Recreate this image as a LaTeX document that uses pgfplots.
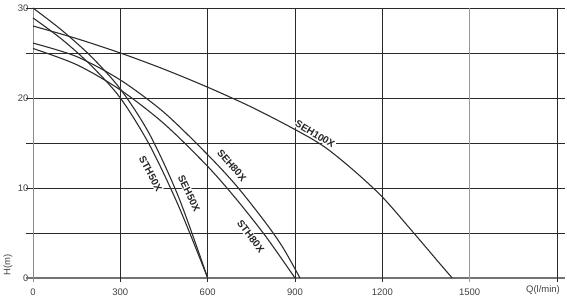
\documentclass[border=0pt]{standalone}
\usepackage{fontspec}
\setmainfont{Liberation Sans}
\usepackage{pgfplots}
\pgfplotsset{compat=1.18}
\definecolor{gridc}{HTML}{2A2A2A}
\definecolor{curvec}{HTML}{2E2E2E}
\begin{document}
\begin{tikzpicture}
\path[use as bounding box] (-33pt,-26pt) rectangle (534pt,278pt);
\begin{axis}[
  scale only axis, width=524pt, height=270pt,
  xmin=0, xmax=1800, ymin=0, ymax=30,
  axis line style={draw=none},
  tick style={draw=none},
  xtick={0,300,600,900,1200,1500},
  ytick={0,10,20,30},
  /pgf/number format/assume math mode=true,
  /pgf/number format/1000 sep={},
  ticklabel style={font=\fontsize{9.5}{11}\selectfont, text=black!75},
  xticklabel style={yshift=-7pt},
  yticklabel style={xshift=-1pt},
  clip=false,
  cycle list={{curvec, line width=1.1pt, smooth, mark=none}},
]
% grid
\pgfplotsinvokeforeach{5,10,15,20,25,30}{\draw[gridc, line width=0.8pt] (axis cs:-24,#1) -- (axis cs:1827,#1);}
\draw[black!55, line width=1.3pt] (axis cs:-24,0) -- (axis cs:1827,0);
\pgfplotsinvokeforeach{300,600,900,1200,1800}{\draw[gridc, line width=0.8pt] (axis cs:#1,-0.4) -- (axis cs:#1,30);}
\draw[black!45, line width=0.8pt] (axis cs:0,-0.4) -- (axis cs:0,30);
\draw[black!40, line width=0.8pt] (axis cs:1500,-0.4) -- (axis cs:1500,30);

% SEH100X
\addplot[curvec, line width=1.1pt, smooth] coordinates {(0,28) (150,26.6) (300,25.0) (450,23.2) (600,21.2) (750,19.0) (900,16.5) (1000,14.6) (1100,12.0) (1200,9.0) (1300,5.3) (1400,1.5) (1440,0)};
% SEH80X
\addplot[curvec, line width=1.1pt, smooth] coordinates {(0,26.1) (150,24.6) (300,22.0) (450,18.4) (600,13.7) (700,10.2) (800,6.1) (860,3.3) (917,0)};
% STH80X
\addplot[curvec, line width=1.1pt, smooth] coordinates {(0,25.5) (150,23.7) (300,20.9) (450,17.15) (600,12.4) (700,8.7) (800,4.6) (900,0)};
% SEH50X
\addplot[curvec, line width=1.1pt, smooth] coordinates {(0,30) (100,27.5) (200,24.6) (300,21.0) (400,16.0) (500,9.0) (600,0)};
% STH50X
\addplot[curvec, line width=1.1pt, smooth] coordinates {(0,28.9) (100,26.5) (200,23.6) (300,20.0) (400,14.8) (500,8.0) (600,0)};

\tikzset{lbl/.style={fill=white, inner sep=0.8pt, text=black!85, font=\bfseries\fontsize{10}{10}\selectfont}}
\node[lbl, rotate=-31] at (axis cs:969,16.0) {SEH100X};
\node[lbl, rotate=-62] at (axis cs:404,11.6) {STH50X};
\node[lbl, rotate=-64] at (axis cs:536,9.4) {SEH50X};
\node[lbl, rotate=-49] at (axis cs:683,12.5) {SEH80X};
\node[lbl, rotate=-53] at (axis cs:748,4.6) {STH80X};
\end{axis}
\node[rotate=90, text=black!75, font=\fontsize{9.5}{11}\selectfont] at (-25pt,13pt) {H(m)};
\node[text=black!75, font=\fontsize{9.5}{11}\selectfont] at (510pt,-12pt) {Q(l/min)};
\end{tikzpicture}
\end{document}
